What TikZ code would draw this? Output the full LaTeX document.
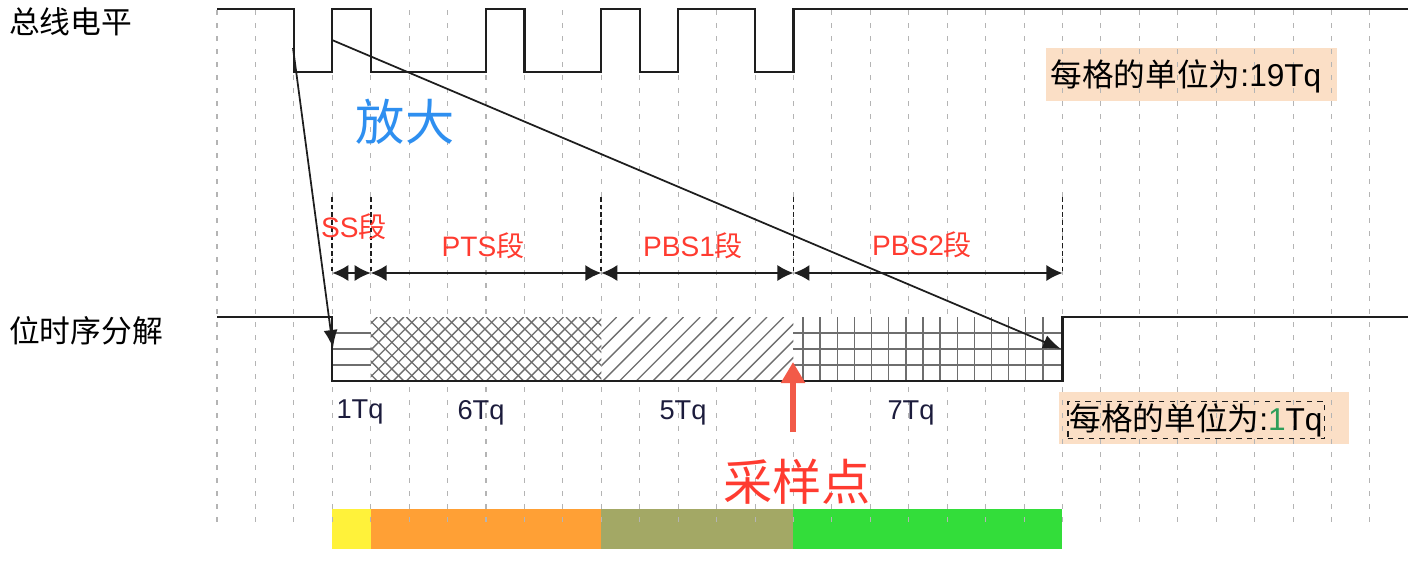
\documentclass[tikz,border=0pt]{standalone}
\usepackage{fontspec}
\setmainfont{Liberation Sans}
\newfontfamily\cjk{Noto Sans CJK SC}
\usetikzlibrary{arrows.meta}
\definecolor{ink}{HTML}{1E1E1E}
\definecolor{gridgray}{HTML}{B4B4B4}
\definecolor{hatchgray}{HTML}{6E6E6E}
\definecolor{segred}{HTML}{FF3B30}
\definecolor{zoomblue}{HTML}{2E8FF0}
\definecolor{tqnavy}{HTML}{1C1C3C}
\definecolor{tqgreen}{HTML}{2E9E5A}
\definecolor{peach}{HTML}{FBDFC6}
\definecolor{ssyellow}{HTML}{FFF23A}
\definecolor{ptsorange}{HTML}{FFA035}
\definecolor{pbsolive}{HTML}{A3A865}
\definecolor{pbsgreen}{HTML}{33DD3A}
\definecolor{samplered}{HTML}{F25A48}

\begin{document}
\begin{tikzpicture}[x=0.02cm,y=-0.02cm,
  wave/.style={ink,line width=1.3pt,line join=miter},
  gridline/.style={gridgray,line width=0.6pt,dash pattern=on 3pt off 4.4pt},
  segline/.style={ink,line width=1pt,dash pattern=on 2.6pt off 1.8pt},
  hatchline/.style={hatchgray,line width=0.75pt},
  dimarrow/.style={ink,line width=0.9pt,{Latex[length=0.32cm,width=0.32cm]}-{Latex[length=0.32cm,width=0.32cm]}},
  zoomarrow/.style={ink,line width=1pt,-{Latex[length=0.36cm,width=0.28cm]}},
  seglabel/.style={text=segred,font=\fontsize{16}{18}\selectfont},
  tqlabel/.style={text=tqnavy,font=\fontsize{15.5}{17}\selectfont},
  rowlabel/.style={anchor=west,font=\cjk\fontsize{17.5}{20}\selectfont},
  unitbox/.style={font=\fontsize{18}{20}\selectfont,inner sep=1pt}]
\useasboundingbox (0,0) rectangle (1409,579);
\def\gw{38.43}
% colour bar and unit boxes, under the grid
\foreach \a/\b/\c in {3/4/ssyellow,4/10/ptsorange,10/15/pbsolive,15/22/pbsgreen}
  \fill[\c] (217+\a*\gw,509) rectangle (217+\b*\gw,549);
\fill[peach] (1046,48) rectangle (1337,101);
\fill[peach] (1059,392) rectangle (1349,444);
% grid
\foreach \i in {0,...,30}
  \draw[gridline] (217+\i*\gw,10) -- (217+\i*\gw,527);
% bit box
\fill[white] (217+3*\gw,317) rectangle (217+22*\gw,381);
\foreach \y in {333,349,365}{
  \draw[hatchline] (217+3*\gw,\y) -- (217+4*\gw,\y);
  \draw[hatchline] (217+15*\gw,\y) -- (217+22*\gw,\y);}
\foreach \x in {803,820.14,...,1045}
  \draw[hatchline] (\x,317) -- (\x,381);
\begin{scope}
\clip (217+4*\gw,317) rectangle (217+10*\gw,381);
\foreach \a in {300,313.3,...,620}{
  \draw[hatchline] (\a,381) -- (\a+64,317);
  \draw[hatchline] (\a,317) -- (\a+64,381);}
\end{scope}
\begin{scope}
\clip (217+10*\gw,317) rectangle (217+15*\gw,381);
\foreach \a in {536,552.7,...,800}
  \draw[hatchline] (\a,381) -- (\a+64,317);
\end{scope}
% waveforms
\draw[wave] (217,9) -| (217+2*\gw,72) -| (217+3*\gw,9) -| (217+4*\gw,72)
  -| (217+7*\gw,9) -| (217+8*\gw,72) -| (217+10*\gw,9) -| (217+11*\gw,72)
  -| (217+12*\gw,9) -| (217+14*\gw,72) -| (217+15*\gw,9) -- (1408,9);
\draw[wave] (217,317) -| (217+3*\gw,381) -| (217+22*\gw,317) -- (1408,317);
% segment marks
\foreach \i [count=\k from 0] in {3,4,10,15,22}{
  \coordinate (t\k) at (217+\i*\gw,197);
  \coordinate (b\k) at (217+\i*\gw,273);
  \draw[segline] (t\k) -- (b\k);}
\foreach \p/\q in {0/1,1/2,2/3,3/4}
  \draw[dimarrow] (b\p) -- (b\q);
\node[seglabel] (ss) at (354,227) {SS{\cjk 段}};
\node[seglabel] (pts) at (483,246) {PTS{\cjk 段}};
\node[seglabel] (pbs1) at (693,246) {PBS1{\cjk 段}};
\node[seglabel] (pbs2) at (922,245) {PBS2{\cjk 段}};
\node[tqlabel] (tq1) at (360,412) {1Tq};
\node[tqlabel] (tq6) at (481,413) {6Tq};
\node[tqlabel] (tq5) at (683,413) {5Tq};
\node[tqlabel] (tq7) at (911,413) {7Tq};
% zoom arrows
\coordinate (z1) at (293,48);
\coordinate (z2) at (332,40);
\coordinate (e1) at (333,348);
\coordinate (e2) at (1061,349);
\draw[zoomarrow] (z1) -- (e1);
\draw[zoomarrow] (z2) -- (e2);
% sample point
\coordinate (sp) at (793,432);
\coordinate (spt) at (793,362);
\draw[samplered,line width=3.6pt,-{Triangle[length=0.42cm,width=0.46cm]}] (sp) -- (spt);
% texts
\node[rowlabel] (bus) at (3,22) {总线电平};
\node[rowlabel] (bits) at (3,331) {位时序分解};
\node[text=zoomblue,font=\cjk\fontsize{28}{30}\selectfont] (zoom) at (405,122) {放大};
\node[text=segred,font=\cjk\fontsize{28}{30}\selectfont] (sample) at (797,482) {采样点};
\node[unitbox] (unit19) at (1186,76) {{\cjk 每格的单位为}:19Tq};
\node[unitbox,draw=ink,dashed,line width=0.9pt] (unit1) at (1196,420) {{\cjk 每格的单位为}:{\color{tqgreen}1}Tq};
\end{tikzpicture}
\end{document}
